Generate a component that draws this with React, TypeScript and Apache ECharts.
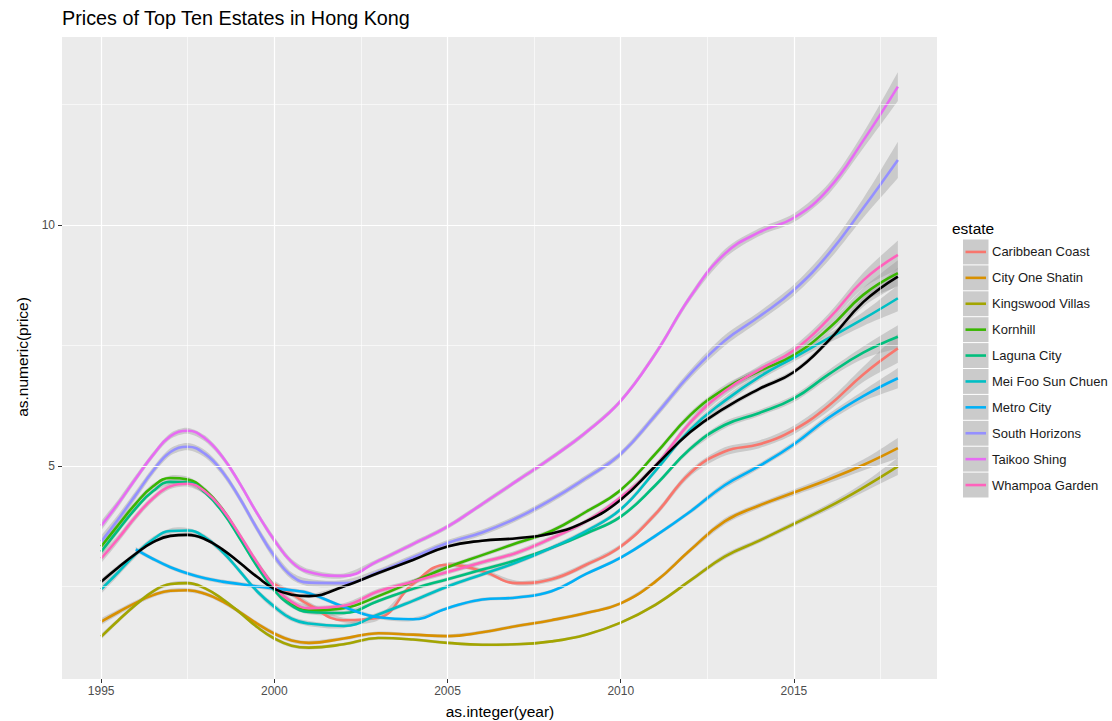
import React, { useEffect, useRef } from "react";
import * as echarts from "echarts";

// sample positions (half-years while prices move fast, then yearly)
const xs = [1995, 1995.5, 1996, 1996.5, 1997, 1997.5, 1998, 1998.5, 1999, 1999.5, 2000, 2000.5, 2001, 2002, 2003, 2004, 2005, 2006, 2007, 2008, 2009, 2010, 2011, 2012, 2013, 2014, 2015, 2016, 2017, 2018];

const estates = ["Caribbean Coast", "City One Shatin", "Kingswood Villas", "Kornhill", "Laguna City", "Mei Foo Sun Chuen", "Metro City", "South Horizons", "Taikoo Shing", "Whampoa Garden"];
const colors = ["#F8766D", "#D89000", "#A3A500", "#39B600", "#00BF7D", "#00BFC4", "#00B0F6", "#9590FF", "#E76BF3", "#FF62BC"];

// first sample year of each estate
const startYears = [2000, 1995, 1995, 1995, 1995, 1995, 1996, 1995, 1995, 1995];

const caribbeanCoast = [2.55, 2.35, 2.12, 1.8, 1.85, 2.55, 2.95, 2.82, 2.57, 2.65, 2.95, 3.33, 4.0, 4.85, 5.3, 5.45, 5.75, 6.25, 6.9, 7.44];
const cityOneShatin = [1.77, 1.97, 2.16, 2.32, 2.41, 2.42, 2.35, 2.19, 1.97, 1.73, 1.52, 1.38, 1.33, 1.42, 1.53, 1.5, 1.47, 1.55, 1.68, 1.8, 1.95, 2.15, 2.6, 3.25, 3.85, 4.18, 4.45, 4.72, 5.02, 5.37];
const kingswoodVillas = [1.46, 1.8, 2.12, 2.4, 2.55, 2.57, 2.46, 2.24, 1.96, 1.66, 1.42, 1.27, 1.23, 1.3, 1.43, 1.4, 1.33, 1.29, 1.3, 1.36, 1.5, 1.75, 2.12, 2.62, 3.12, 3.45, 3.8, 4.15, 4.55, 4.99];
const kornhill = [3.33, 3.78, 4.22, 4.58, 4.75, 4.72, 4.5, 4.1, 3.55, 2.98, 2.5, 2.15, 2.0, 2.05, 2.3, 2.6, 2.9, 3.15, 3.4, 3.65, 4.05, 4.5, 5.25, 6.05, 6.6, 6.97, 7.3, 7.85, 8.55, 9.0];
const lagunaCity = [3.22, 3.68, 4.12, 4.48, 4.67, 4.66, 4.45, 4.05, 3.5, 2.92, 2.42, 2.1, 1.97, 1.95, 2.2, 2.45, 2.65, 2.85, 3.05, 3.3, 3.6, 3.95, 4.6, 5.35, 5.85, 6.1, 6.4, 6.9, 7.35, 7.68];
const meiFooSunChuen = [2.44, 2.8, 3.17, 3.48, 3.65, 3.66, 3.52, 3.22, 2.82, 2.4, 2.08, 1.83, 1.73, 1.68, 1.92, 2.2, 2.5, 2.75, 3.0, 3.3, 3.65, 4.1, 4.9, 5.75, 6.35, 6.85, 7.25, 7.65, 8.05, 8.48];
const metroCity = [3.27, 3.07, 2.9, 2.77, 2.67, 2.6, 2.55, 2.5, 2.46, 2.42, 2.36, 2.08, 1.86, 1.82, 2.05, 2.23, 2.27, 2.4, 2.76, 3.1, 3.55, 4.05, 4.6, 5.0, 5.45, 6.0, 6.45, 6.82];
const southHorizons = [3.43, 3.9, 4.4, 4.9, 5.29, 5.4, 5.25, 4.88, 4.33, 3.7, 3.13, 2.72, 2.58, 2.57, 2.8, 3.1, 3.4, 3.62, 3.92, 4.3, 4.75, 5.25, 6.05, 6.9, 7.6, 8.1, 8.65, 9.4, 10.35, 11.35];
const taikooShing = [3.76, 4.23, 4.74, 5.23, 5.62, 5.73, 5.57, 5.19, 4.64, 4.02, 3.46, 3.01, 2.8, 2.72, 3.03, 3.38, 3.74, 4.21, 4.69, 5.17, 5.7, 6.35, 7.33, 8.5, 9.4, 9.85, 10.15, 10.75, 11.75, 12.87];
const whampoaGarden = [3.08, 3.5, 3.95, 4.33, 4.58, 4.63, 4.47, 4.1, 3.57, 3.0, 2.5, 2.18, 2.05, 2.1, 2.4, 2.6, 2.8, 3.0, 3.2, 3.5, 3.85, 4.35, 5.0, 5.9, 6.55, 7.0, 7.4, 8.05, 8.85, 9.38];
const allEstates = [2.6, 2.9, 3.18, 3.42, 3.55, 3.57, 3.48, 3.27, 2.99, 2.7, 2.45, 2.33, 2.3, 2.5, 2.78, 3.05, 3.33, 3.45, 3.5, 3.6, 3.85, 4.3, 5.0, 5.7, 6.2, 6.6, 6.95, 7.6, 8.4, 8.93];

const estateValues = [caribbeanCoast, cityOneShatin, kingswoodVillas, kornhill, lagunaCity, meiFooSunChuen, metroCity, southHorizons, taikooShing, whampoaGarden];

// confidence band half-widths (by sample position) and per-estate scale
const bandHalf = [0.1, 0.08, 0.07, 0.06, 0.06, 0.06, 0.06, 0.06, 0.06, 0.06, 0.07, 0.06, 0.06, 0.05, 0.05, 0.05, 0.05, 0.05, 0.05, 0.05, 0.05, 0.05, 0.06, 0.07, 0.09, 0.08, 0.09, 0.11, 0.16, 0.3];
const bandScale = [1.0, 0.7, 0.6, 0.9, 0.8, 0.9, 0.7, 1.25, 1.0, 1.0];
const allBandScale = 0.6;

const xTicks = [1995, 2000, 2005, 2010, 2015];
const xMinor = [1997.5, 2002.5, 2007.5, 2012.5, 2017.5];
const yTicks = [5, 10];
const yMinor = [2.5, 7.5, 12.5];

const FONT = '"Liberation Sans", Arial, Helvetica, sans-serif';
const SMOOTH = 0.45;

function buildOption() {
  const series: any[] = [];
  const gridLines: any[] = [];
  xMinor.forEach((v) => gridLines.push({ xAxis: v, lineStyle: { color: "#FFFFFF", width: 0.6, type: "solid" } }));
  yMinor.forEach((v) => gridLines.push({ yAxis: v, lineStyle: { color: "#FFFFFF", width: 0.6, type: "solid" } }));
  xTicks.forEach((v) => gridLines.push({ xAxis: v, lineStyle: { color: "#FFFFFF", width: 1.2, type: "solid" } }));
  yTicks.forEach((v) => gridLines.push({ yAxis: v, lineStyle: { color: "#FFFFFF", width: 1.2, type: "solid" } }));

  series.push({
    type: "line",
    name: "grid",
    data: [[2005, 5]],
    symbol: "none",
    lineStyle: { opacity: 0 },
    silent: true,
    z: 1,
    markLine: {
      silent: true,
      symbol: ["none", "none"],
      label: { show: false },
      lineStyle: { type: "solid", color: "#FFFFFF" },
      data: gridLines,
    },
  });

  const pairs = (vals: number[], start: number) => {
    const off = xs.indexOf(start);
    return vals.map((v, j) => [xs[off + j], v]);
  };

  const addBand = (vals: number[], start: number, scale: number) => {
    const off = xs.indexOf(start);
    const upper = vals.map((v, j) => [xs[off + j], v + bandHalf[off + j] * scale]);
    const lower = vals.map((v, j) => [xs[off + j], v - bandHalf[off + j] * scale]);
    series.push({
      type: "custom",
      silent: true,
      z: 2,
      data: [[start, vals[0]]],
      renderItem: (_params: any, api: any) => {
        const up = upper.map((p) => api.coord(p));
        const lo = lower.slice().reverse().map((p) => api.coord(p));
        const pts = [up[0], ...up, up[up.length - 1], lo[0], ...lo, lo[lo.length - 1]];
        return {
          type: "polygon",
          shape: { points: pts, smooth: 0.3 },
          style: { fill: "rgba(153,153,153,0.4)", stroke: "none" },
        };
      },
    });
  };

  estateValues.forEach((vals, i) => addBand(vals, startYears[i], bandScale[i]));
  addBand(allEstates, 1995, allBandScale);

  estateValues.forEach((vals, i) => {
    series.push({
      type: "line",
      name: estates[i],
      data: pairs(vals, startYears[i]),
      symbol: "none",
      smooth: SMOOTH,
      lineStyle: { color: colors[i], width: 2.6 },
      z: 3,
    });
  });
  series.push({
    type: "line",
    name: "all",
    data: pairs(allEstates, 1995),
    symbol: "none",
    smooth: SMOOTH,
    lineStyle: { color: "#000000", width: 2.6 },
    z: 4,
  });

  const legendEls: any[] = [];
  const rowH = 25.9;
  const top0 = 239.5;
  estates.forEach((name, i) => {
    const y = top0 + i * rowH;
    legendEls.push({ type: "rect", shape: { x: 963, y: y, width: 25.5, height: rowH - 1 }, style: { fill: "#CBCBCB" } });
    legendEls.push({ type: "line", shape: { x1: 965.5, y1: y + rowH / 2 - 0.5, x2: 986, y2: y + rowH / 2 - 0.5 }, style: { stroke: colors[i], lineWidth: 2.6 } });
    legendEls.push({ type: "text", x: 992, y: y + rowH / 2 - 0.5, style: { text: name, fill: "#1A1A1A", font: "13px " + FONT, align: "left", verticalAlign: "middle" } });
  });

  return {
    animation: false,
    backgroundColor: "#FFFFFF",
    grid: { left: 62, top: 37, width: 875, height: 642, show: true, backgroundColor: "#EBEBEB", borderWidth: 0 },
    xAxis: {
      type: "value",
      min: 1993.87,
      max: 2019.13,
      splitLine: { show: false },
      axisLine: { show: false },
      axisTick: { show: true, length: 4, lineStyle: { color: "#333333", width: 1 }, customValues: xTicks },
      axisLabel: { customValues: xTicks, formatter: (v: number) => String(v), color: "#4D4D4D", fontSize: 12, fontFamily: FONT, margin: 6 },
    },
    yAxis: {
      type: "value",
      min: 0.58,
      max: 13.9,
      splitLine: { show: false },
      axisLine: { show: false },
      axisTick: { show: true, length: 4, lineStyle: { color: "#333333", width: 1 }, customValues: yTicks },
      axisLabel: { customValues: yTicks, formatter: (v: number) => String(v), color: "#4D4D4D", fontSize: 12, fontFamily: FONT, margin: 7 },
    },
    series,
    graphic: [
      { type: "text", x: 62, y: 18, style: { text: "Prices of Top Ten Estates in Hong Kong", fill: "#000000", font: "19.8px " + FONT, align: "left", verticalAlign: "middle" } },
      { type: "text", x: 500, y: 711, style: { text: "as.integer(year)", fill: "#000000", font: "15.5px " + FONT, align: "center", verticalAlign: "middle" } },
      { type: "text", x: 22, y: 357, rotation: Math.PI / 2, style: { text: "as.numeric(price)", fill: "#000000", font: "15.5px " + FONT, align: "center", verticalAlign: "middle" } },
      { type: "text", x: 952, y: 228, style: { text: "estate", fill: "#000000", font: "15.5px " + FONT, align: "left", verticalAlign: "middle" } },
      ...legendEls,
    ],
  };
}

export default function App() {
  const ref = useRef<HTMLDivElement>(null);
  useEffect(() => {
    if (!ref.current) return;
    const chart = echarts.init(ref.current, undefined, { renderer: "svg" });
    chart.setOption(buildOption() as any);
    return () => chart.dispose();
  }, []);
  return <div ref={ref} style={{ position: "fixed", left: 0, top: 0, width: 1112, height: 721 }} />;
}
